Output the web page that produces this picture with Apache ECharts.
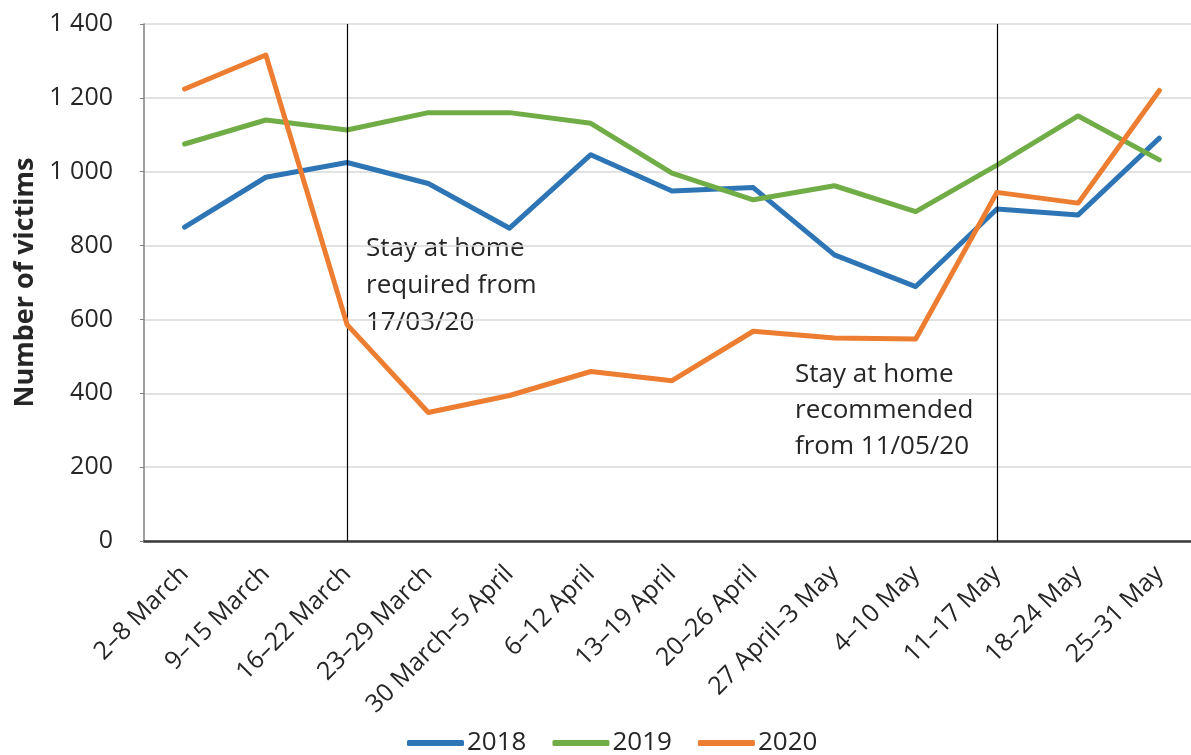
<!DOCTYPE html>
<html>
<head>
<meta charset="utf-8">
<script src="https://cdn.jsdelivr.net/npm/echarts@6/dist/echarts.min.js"></script>
<style>
  html, body { margin: 0; padding: 0; background: #fff; }
  #chart { width: 1191px; height: 755px; }
</style>
</head>
<body>
<div id="chart"></div>
<script>
var weeks = ['2–8 March', '9–15 March', '16–22 March', '23–29 March', '30 March–5 April',
    '6–12 April', '13–19 April', '20–26 April', '27 April–3 May', '4–10 May',
    '11–17 May', '18–24 May', '25–31 May'];
var v2018 = [850, 985, 1025, 968, 847, 1046, 948, 957, 775, 689, 899, 883, 1091];
var v2019 = [1075, 1140, 1113, 1160, 1160, 1131, 996, 924, 962, 892, 1018, 1151, 1032];
var v2020 = [1224, 1316, 586, 348, 394, 459, 434, 568, 550, 547, 944, 915, 1220];
var markers = ['16–22 March', '11–17 May'];
var yTicks = [0, 200, 400, 600, 800, 1000, 1200, 1400];

var font = '"Open Sans", "Noto Sans", sans-serif';
var textColor = '#262626';

function fmt(v) {
    // thousands with a space, like the original
    return String(v).replace(/\B(?=(\d{3})+(?!\d))/g, ' ');
}

var myChart = echarts.init(document.getElementById('chart'));
var option = {
    backgroundColor: '#fff',
    animation: false,
    textStyle: { fontFamily: font },
    grid: { left: 144, top: 24, width: 1056, bottom: 214, containLabel: false, outerBoundsMode: 'none' },
    legend: {
        bottom: -6,
        left: 402,
        icon: 'roundRect',
        itemWidth: 57,
        itemHeight: 6,
        itemGap: 26,
        textStyle: { fontFamily: font, fontSize: 26, color: textColor, padding: [0, 0, 0, -2] },
        data: ['2018', '2019', '2020']
    },
    xAxis: {
        type: 'category',
        data: weeks,
        boundaryGap: true,
        axisLine: { lineStyle: { color: '#3a3a3a', width: 2.5 } },
        axisTick: { show: false },
        axisLabel: {
            rotate: 45,
            interval: 0,
            margin: 29,
            fontFamily: font,
            fontSize: 25,
            color: textColor
        }
    },
    yAxis: {
        type: 'value',
        min: yTicks[0],
        max: yTicks[yTicks.length - 1],
        interval: 200,
        name: 'Number of victims',
        nameLocation: 'middle',
        nameRotate: 90,
        nameGap: 105,
        nameTextStyle: { fontFamily: font, fontSize: 27, fontWeight: 'bold', color: textColor },
        axisLine: { show: true, lineStyle: { color: '#7f7f7f', width: 1.5 } },
        axisTick: { show: true, length: 4, lineStyle: { color: '#7f7f7f' } },
        splitLine: { lineStyle: { color: '#d9d9d9', width: 1.5 } },
        axisLabel: {
            margin: 31,
            fontFamily: font,
            fontSize: 25,
            color: textColor,
            formatter: fmt
        }
    },
    graphic: [
        {
            type: 'text', left: 366, top: 230,
            style: {
                text: 'Stay at home\nrequired from\n17/03/20',
                font: '26px ' + font, fill: textColor, lineHeight: 37
            }
        },
        {
            type: 'text', left: 795, top: 357,
            style: {
                text: 'Stay at home\nrecommended\nfrom 11/05/20',
                font: '26px ' + font, fill: textColor, lineHeight: 36
            }
        }
    ],
    series: [
        {
            name: '2018', type: 'line', data: v2018,
            showSymbol: false, symbol: 'none',
            lineStyle: { color: '#2e75b6', width: 5, cap: 'round', join: 'round' },
            itemStyle: { color: '#2e75b6' },
            z: 3,
            markLine: {
                silent: true,
                symbol: 'none',
                label: { show: false },
                lineStyle: { color: '#000', width: 1.2, type: 'solid' },
                data: markers.map(function (m) { return { xAxis: m }; })
            }
        },
        {
            name: '2019', type: 'line', data: v2019,
            showSymbol: false, symbol: 'none',
            lineStyle: { color: '#70ad47', width: 5, cap: 'round', join: 'round' },
            itemStyle: { color: '#70ad47' },
            z: 4
        },
        {
            name: '2020', type: 'line', data: v2020,
            showSymbol: false, symbol: 'none',
            lineStyle: { color: '#ed7d31', width: 5, cap: 'round', join: 'round' },
            itemStyle: { color: '#ed7d31' },
            z: 5
        }
    ]
};
myChart.setOption(option);
</script>
</body>
</html>
